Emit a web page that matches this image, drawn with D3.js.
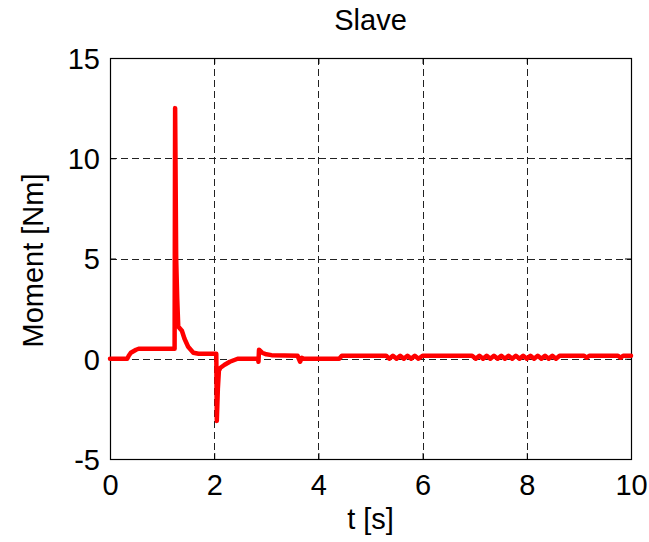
<!DOCTYPE html>
<html>
<head>
<meta charset="utf-8">
<script src="https://cdn.jsdelivr.net/npm/d3@7"></script>
<style>
  body { margin: 0; background: #fff; }
  text { font-family: "Liberation Sans", Arial, sans-serif; fill: #000; }
</style>
</head>
<body>
<div id="chart"></div>
<script>
// time [s] and moment [Nm]
var times = [0, 0.33, 0.36, 0.4, 0.5, 0.55, 1.24, 1.25, 1.27, 1.29, 1.31, 1.33, 1.38, 1.43, 1.5, 1.6, 1.7,
  2.04, 2.05, 2.07, 2.09, 2.12, 2.2, 2.3, 2.4, 2.45, 2.84, 2.85, 2.86, 2.88, 2.92, 3.0, 3.1, 3.6, 3.65, 3.68,
  3.72, 4.4, 4.45, 5.3, 5.36, 5.43, 5.5, 5.57, 5.64, 5.71, 5.78, 5.85, 5.92, 6.0, 6.95, 7.02, 7.09, 7.16,
  7.23, 7.3, 7.37, 7.44, 7.51, 7.58, 7.65, 7.72, 7.79, 7.86, 7.93, 8.0, 8.07, 8.14, 8.21, 8.28, 8.35, 8.42,
  8.49, 8.56, 8.63, 8.7, 9.1, 9.15, 9.2, 9.75, 9.8, 9.85, 10];
var moment = [0, 0, 0.15, 0.3, 0.45, 0.5, 0.5, 12.5, 5, 3, 1.6, 1.55, 1.4, 1.0, 0.6, 0.3, 0.25,
  0.25, -3.1, -1.5, -0.6, -0.45, -0.3, -0.15, -0.05, 0, 0, -0.15, 0.45, 0.4, 0.3, 0.22, 0.18, 0.15, -0.15, 0.05,
  0, 0, 0.15, 0.15, 0.0, 0.15, 0.0, 0.15, 0.0, 0.15, 0.0, 0.15, 0.0, 0.15, 0.15, 0.0, 0.15, 0.0,
  0.15, 0.0, 0.15, 0.0, 0.15, 0.0, 0.15, 0.0, 0.15, 0.0, 0.15, 0.0, 0.15, 0.0, 0.15, 0.0, 0.15, 0.0,
  0.15, 0.0, 0.15, 0.15, 0.15, 0.05, 0.15, 0.15, 0.05, 0.15, 0.15];
var xTicks = [0, 2, 4, 6, 8, 10];
var yTicks = [-5, 0, 5, 10, 15];

var W = 649, H = 542;
var margin = {top: 58, right: 18, bottom: 83, left: 110};
var width = W - margin.left - margin.right,
    height = H - margin.top - margin.bottom;
var fontSize = 29;
var plain = function (d) { return String(d); };  // keep the ascii hyphen in "-5"

var svg = d3.select("#chart").append("svg")
    .attr("width", W)
    .attr("height", H);

var g = svg.append("g")
    .attr("transform", "translate(" + margin.left + "," + margin.top + ")");

var x = d3.scaleLinear().domain([0, 10]).range([0, width]);
var y = d3.scaleLinear().domain([-5, 15]).range([height, 0]);

// grid
g.append("g").selectAll("line")
    .data(xTicks.slice(1, -1))
    .enter().append("line")
    .attr("x1", function (d) { return Math.round(x(d)) + 0.5; })
    .attr("x2", function (d) { return Math.round(x(d)) + 0.5; })
    .attr("y1", 0).attr("y2", height)
    .attr("stroke", "#222").attr("stroke-dasharray", "7,4");

g.append("g").selectAll("line")
    .data(yTicks.slice(1, -1))
    .enter().append("line")
    .attr("y1", function (d) { return Math.round(y(d)) + 0.5; })
    .attr("y2", function (d) { return Math.round(y(d)) + 0.5; })
    .attr("x1", 0).attr("x2", width)
    .attr("stroke", "#222").attr("stroke-dasharray", "7,4");

// axes (ticks inside like matlab)
var xAxis = g.append("g")
    .attr("transform", "translate(0," + height + ")")
    .call(d3.axisBottom(x).tickValues(xTicks).tickSize(-6).tickFormat(plain));
var xAxisTop = g.append("g")
    .call(d3.axisTop(x).tickValues(xTicks).tickSize(-6).tickFormat(""));
var yAxis = g.append("g")
    .call(d3.axisLeft(y).tickValues(yTicks).tickSize(-6).tickPadding(10).tickFormat(plain));
var yAxisRight = g.append("g")
    .attr("transform", "translate(" + width + ",0)")
    .call(d3.axisRight(y).tickValues(yTicks).tickSize(-6).tickFormat(""));

[xAxis, xAxisTop, yAxis, yAxisRight].forEach(function (a) {
    a.select(".domain").remove();
    a.selectAll("line").attr("stroke", "#000");
    a.selectAll("text").attr("font-size", fontSize).style("font-family", "'Liberation Sans', Arial, sans-serif");
});
xAxis.selectAll("text").attr("y", 36).attr("dy", 0);
yAxis.selectAll("text").attr("dy", "0.36em");

g.append("rect")
    .attr("x", 0.5).attr("y", 0.5)
    .attr("width", width).attr("height", height)
    .attr("fill", "none").attr("stroke", "#000").attr("stroke-width", 1.2);

var line = d3.line()
    .x(function (d, i) { return x(times[i]); })
    .y(function (d) { return y(d); });

g.append("path")
    .datum(moment)
    .attr("d", line)
    .attr("fill", "none")
    .attr("stroke", "#ff0000")
    .attr("stroke-width", 4.5)
    .attr("stroke-linejoin", "round")
    .attr("stroke-linecap", "round");

// labels
svg.append("text")
    .attr("x", margin.left + width / 2).attr("y", 30)
    .attr("text-anchor", "middle").attr("font-size", fontSize)
    .text("Slave");

svg.append("text")
    .attr("x", margin.left + width / 2).attr("y", 529)
    .attr("text-anchor", "middle").attr("font-size", fontSize)
    .text("t [s]");

svg.append("text")
    .attr("transform", "translate(43," + (margin.top + height / 2 + 2) + ") rotate(-90)")
    .attr("text-anchor", "middle").attr("font-size", fontSize)
    .text("Moment [Nm]");
</script>
</body>
</html>
